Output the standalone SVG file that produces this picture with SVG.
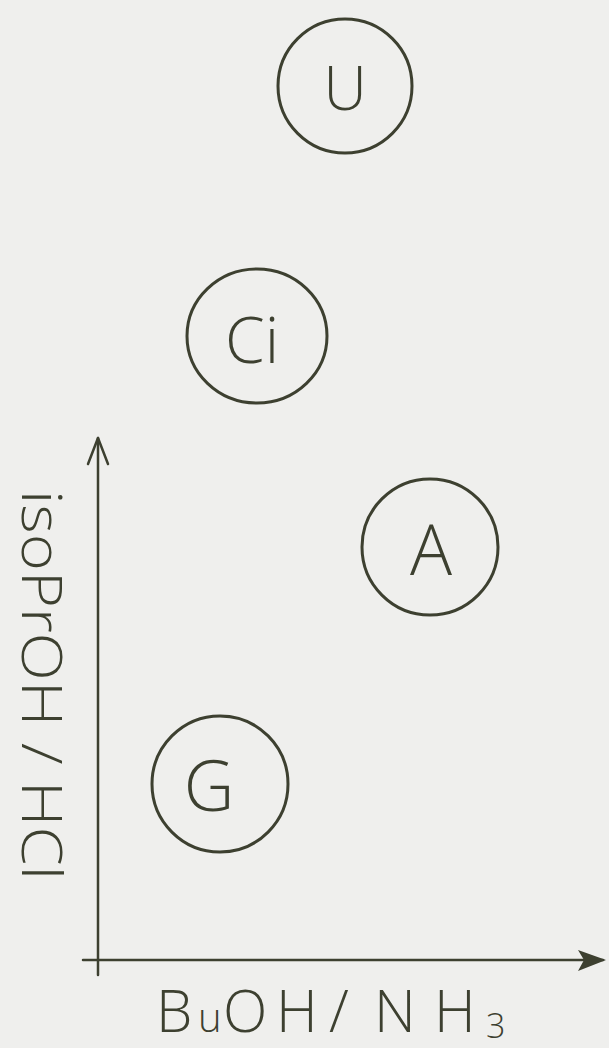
<svg xmlns="http://www.w3.org/2000/svg" width="609" height="1048" viewBox="0 0 609 1048">
  <style>
    .spot { fill: none; stroke: #3d4030; stroke-width: 3; }
    .lbl { font-family: "Open Sans", "Liberation Sans", sans-serif; font-weight: 300; fill: #3d4030; }
    .axis { fill: none; stroke: #3d4030; stroke-width: 2.5; stroke-linecap: round; stroke-linejoin: round; }
  </style>
  <rect x="0" y="0" width="609" height="1048" fill="#efefed"/>
  <g id="connectors">
    <line class="axis" x1="98" y1="438" x2="98" y2="975"/>
    <polyline class="axis" points="88,464 98,438 108,464" stroke-width="3.5"/>
    <line class="axis" x1="83" y1="960" x2="603" y2="960"/>
    <path d="M606,960 L578,950 L584,960 L578,971 Z" fill="#3d4030"/>
  </g>
  <g id="node-U">
    <circle class="spot" cx="345" cy="86" r="67"/>
    <text class="lbl" x="345" y="110" font-size="60" text-anchor="middle">U</text>
  </g>
  <g id="node-Ci">
    <ellipse class="spot" cx="257" cy="336" rx="70" ry="67"/>
    <text class="lbl" x="252" y="363" font-size="64" text-anchor="middle">Ci</text>
  </g>
  <g id="node-A">
    <circle class="spot" cx="430" cy="547" r="68"/>
    <text class="lbl" x="431" y="575" font-size="70" text-anchor="middle">A</text>
  </g>
  <g id="node-G">
    <circle class="spot" cx="220" cy="784" r="68"/>
    <text class="lbl" x="209" y="811" font-size="70" text-anchor="middle">G</text>
  </g>
  <g id="label-y">
    <text class="lbl" transform="translate(22,490) rotate(90)" x="0" y="0" font-size="56" textLength="390" lengthAdjust="spacingAndGlyphs">isoPrOH / HCl</text>
  </g>
  <g id="label-x">
    <text class="lbl" y="1032" font-size="58"><tspan x="156">B</tspan><tspan x="198" font-size="40">u</tspan><tspan x="223">O</tspan><tspan x="276">H</tspan><tspan x="329">/</tspan><tspan x="374">N</tspan><tspan x="434">H</tspan><tspan x="486" y="1038" font-size="34">3</tspan></text>
  </g>
</svg>
